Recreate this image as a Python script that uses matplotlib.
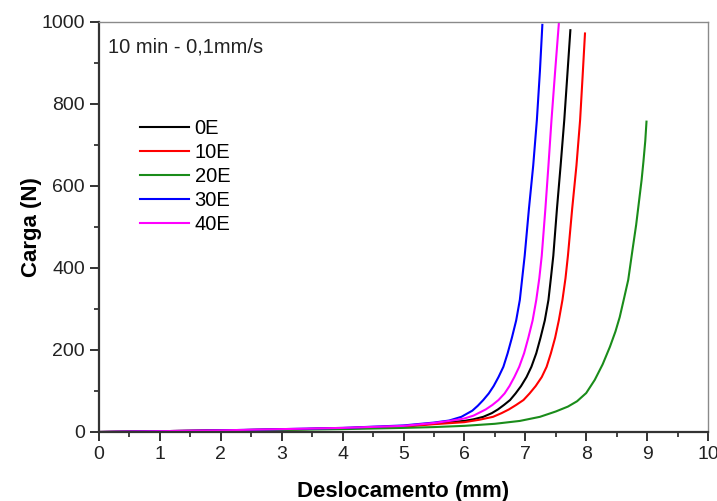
import numpy as np
import matplotlib
matplotlib.use("Agg")
import matplotlib.pyplot as plt
from matplotlib.ticker import MultipleLocator

plt.rcParams['font.family'] = ['Liberation Sans', 'DejaVu Sans']

# deslocamento (mm) / carga (N)
x_0E = [0, 1, 2, 3, 4, 5, 5.5, 6.0, 6.15, 6.31, 6.45, 6.55, 6.65, 6.75, 6.84, 6.93, 7.02, 7.10,
        7.18, 7.25, 7.32, 7.38, 7.42, 7.46, 7.52, 7.58, 7.64, 7.69, 7.74]
y_0E = [0, 2, 4, 6, 9, 14, 21, 27, 31, 37, 46, 55, 66, 78, 94, 112, 134, 159,
        192, 230, 272, 322, 375, 430, 545, 650, 761, 870, 980]

x_10E = [0, 1, 2, 3, 4, 5, 5.5, 6.0, 6.25, 6.47, 6.61, 6.73, 6.85, 6.97, 7.07, 7.17, 7.27, 7.35,
         7.42, 7.49, 7.55, 7.61, 7.66, 7.70, 7.77, 7.84, 7.90, 7.94, 7.98]
y_10E = [0, 2, 4, 6, 9, 13, 19, 24, 30, 37, 46, 55, 66, 78, 94, 112, 134, 159,
         192, 230, 272, 322, 375, 430, 545, 650, 761, 865, 972]

x_20E = [0, 1, 2, 3, 4, 5, 5.5, 6, 6.5, 6.91, 7.24, 7.5, 7.7, 7.85, 8.0, 8.14, 8.27, 8.39,
         8.48, 8.55, 8.62, 8.69, 8.76, 8.82, 8.87, 8.91, 8.94, 8.97, 8.99]
y_20E = [0, 1, 3, 5, 7, 10, 12, 15, 20, 27, 37, 50, 62, 75, 95, 127, 165, 208,
         245, 280, 325, 371, 444, 505, 566, 615, 660, 710, 757]

x_30E = [0, 1, 2, 3, 4, 5, 5.5, 5.75, 5.95, 6.13, 6.22, 6.31, 6.40, 6.48, 6.56, 6.64, 6.71, 6.78,
         6.85, 6.91, 6.99, 7.06, 7.13, 7.19, 7.24, 7.28]
y_30E = [0, 2, 4, 7, 10, 16, 23, 28, 37, 52, 64, 78, 94, 112, 134, 159, 192, 230,
         272, 322, 430, 545, 650, 761, 880, 993]

x_40E = [0, 1, 2, 3, 4, 5, 5.5, 5.8, 6.0, 6.15, 6.35, 6.46, 6.56, 6.66, 6.74, 6.82, 6.90, 6.98,
         7.05, 7.12, 7.18, 7.23, 7.27, 7.33, 7.38, 7.43, 7.49, 7.55]
y_40E = [0, 2, 4, 7, 10, 15, 22, 28, 33, 40, 55, 66, 78, 94, 112, 134, 159, 192,
         230, 272, 322, 375, 430, 545, 650, 761, 880, 995]

series = [("0E", x_0E, y_0E, "black"),
          ("10E", x_10E, y_10E, "red"),
          ("20E", x_20E, y_20E, "#1a8c1a"),
          ("30E", x_30E, y_30E, "blue"),
          ("40E", x_40E, y_40E, "magenta")]

fig = plt.figure(figsize=(7.17, 5.01), dpi=100)
ax = fig.add_axes([99/717, 69/501, 609/717, 410/501])

for nome, xs, ys, cor in series:
    ax.plot(xs, ys, color=cor, lw=1.5, label=nome)

ax.set_xlim(0, 10)
ax.set_ylim(0, 1000)
ax.xaxis.set_major_locator(MultipleLocator(1))
ax.xaxis.set_minor_locator(MultipleLocator(0.5))
ax.yaxis.set_major_locator(MultipleLocator(200))
ax.yaxis.set_minor_locator(MultipleLocator(100))
ax.tick_params(which='major', direction='out', length=6.5, width=1.3, labelsize=14, colors='#222222')
ax.tick_params(which='minor', direction='out', length=3.5, width=1.2, colors='#222222')

for s in ['left', 'bottom']:
    ax.spines[s].set_color('#333333')
    ax.spines[s].set_linewidth(1.6)
for s in ['top', 'right']:
    ax.spines[s].set_color('#8a8a8a')
    ax.spines[s].set_linewidth(1.0)

ax.set_xlabel("Deslocamento (mm)", fontsize=16, fontweight='bold', labelpad=13)
ax.set_ylabel("Carga (N)", fontsize=16, fontweight='bold', labelpad=0)

ax.text(0.015, 0.94, "10 min - 0,1mm/s", transform=ax.transAxes, fontsize=14.5,
        va='center', ha='left', color='#222222')

leg = ax.legend(loc='upper left', bbox_to_anchor=(0.038, 0.807), frameon=False,
                fontsize=14.5, handlelength=2.4, handletextpad=0.3, labelspacing=0.25)

fig.savefig("out.png", dpi=100)
